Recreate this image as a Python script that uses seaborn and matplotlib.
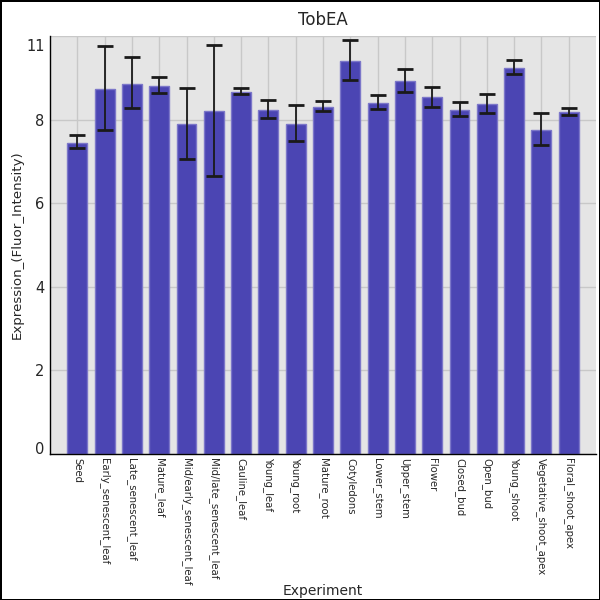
import matplotlib
matplotlib.use("Agg")
import matplotlib.pyplot as plt
import matplotlib.transforms as mtransforms
import seaborn as sns
import pandas as pd

categories = ["Seed", "Early_senescent_leaf", "Late_senescent_leaf", "Mature_leaf",
              "Mid/early_senescent_leaf", "Mid/late_senescent_leaf", "Cauline_leaf",
              "Young_leaf", "Young_root", "Mature_root", "Cotyledons", "Lower_stem",
              "Upper_stem", "Flower", "Closed_bud", "Open_bud", "Young_shoot",
              "Vegetative_shoot_apex", "Floral_shoot_apex"]
values = [7.45, 8.74, 8.85, 8.80, 7.89, 8.20, 8.66, 8.22, 7.89, 8.30,
          9.41, 8.40, 8.93, 8.54, 8.23, 8.38, 9.24, 7.75, 8.18]
err_low = [7.32, 7.76, 8.28, 8.64, 7.05, 6.65, 8.62, 8.04, 7.48, 8.20,
           8.95, 8.26, 8.67, 8.31, 8.08, 8.15, 9.10, 7.40, 8.12]
err_high = [7.63, 9.75, 9.49, 9.02, 8.75, 9.79, 8.75, 8.48, 8.34, 8.44,
            9.90, 8.58, 9.22, 8.78, 8.42, 8.61, 9.42, 8.16, 8.28]
ytick_values = [0, 2, 4, 6, 8, 10]
ytick_labels = ["0", "2", "4", "6", "8", "11"]

df = pd.DataFrame({"Experiment": categories, "Expression": values})

sns.set_theme(style="darkgrid")
plt.rcParams['font.family'] = ['DejaVu Sans']

fig = plt.figure(figsize=(6, 6), dpi=100)
ax = fig.add_axes([50/600, 1-454/600, 546/600, 418/600])
ax.set_facecolor("#e5e5e5")

sns.barplot(data=df, x="Experiment", y="Expression", color="#4b45b3",
            saturation=1, width=0.73, errorbar=None, edgecolor="#7c77c9",
            linewidth=1, ax=ax)

xs = list(range(len(categories)))
lower = [v - l for v, l in zip(values, err_low)]
upper = [h - v for v, h in zip(values, err_high)]
ax.errorbar(xs, values, yerr=[lower, upper], fmt="none", ecolor="#1a1a1a",
            elinewidth=1.3, capsize=5.8, capthick=2, zorder=5)

ax.set_xlim(-1, len(categories))
ax.set_ylim(0, 10)
ax.set_yticks(ytick_values)
ax.set_yticklabels(ytick_labels, fontsize=10.5)
ax.set_xticks(xs)
ax.set_xticklabels(categories, rotation=270, fontsize=7.3, va="top", ha="center")
ax.tick_params(axis="both", length=0, pad=4)
ax.tick_params(axis="x", pad=3)
ax.grid(True, color="#c8c8c8", linewidth=1)
ax.set_axisbelow(True)

# shift end labels inside the axis range
labels = ax.get_yticklabels()
labels[0].set_transform(labels[0].get_transform() +
                        mtransforms.ScaledTranslation(0, 6/100, fig.dpi_scale_trans))
labels[-1].set_transform(labels[-1].get_transform() +
                         mtransforms.ScaledTranslation(0, -9/100, fig.dpi_scale_trans))

for s in ["top", "right"]:
    ax.spines[s].set_visible(False)
for s in ["left", "bottom"]:
    ax.spines[s].set_visible(True)
    ax.spines[s].set_color("black")
    ax.spines[s].set_linewidth(1)

ax.set_title("TobEA", fontsize=12, pad=8)
ax.set_xlabel("Experiment", fontsize=10)
ax.set_ylabel("Expression_(Fluor_Intensity)", fontsize=9.6)
ax.xaxis.set_label_coords(0.5, -(584-454)/418)
ax.yaxis.set_label_coords(-(50-24)/546, 0.5)

fig.patch.set_facecolor("white")
fig.patch.set_edgecolor("black")
fig.patch.set_linewidth(2)
fig.savefig("out.png", dpi=100, facecolor="white", edgecolor="black")
